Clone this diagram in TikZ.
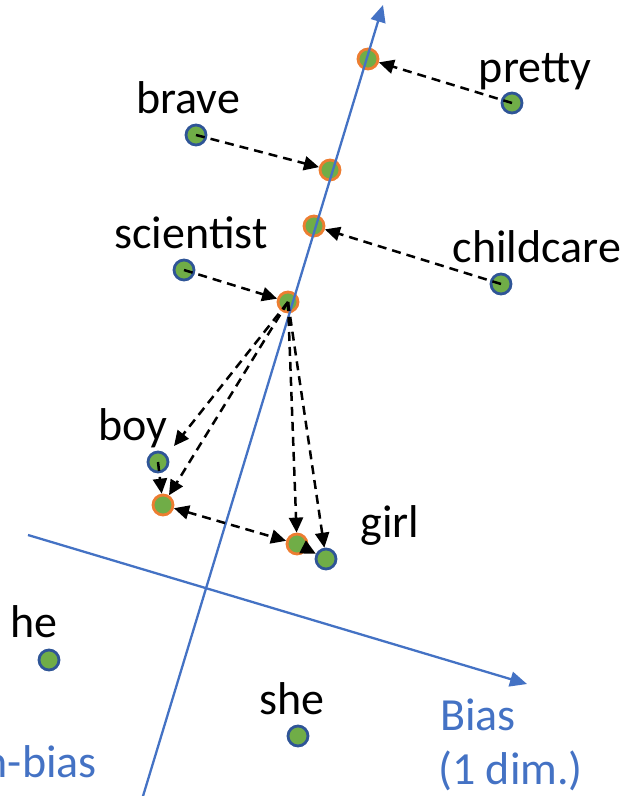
\documentclass[tikz,border=0pt]{standalone}
\usepackage{fontspec}
\setmainfont{Carlito}
\usetikzlibrary{arrows.meta}
\definecolor{dotgreen}{HTML}{70AD47}
\definecolor{dotblue}{HTML}{2F5597}
\definecolor{dotorange}{HTML}{ED7D31}
\definecolor{axisblue}{HTML}{4472C4}
\begin{document}
\begin{tikzpicture}[x=1pt,y=-1pt,
  word/.style={font=\fontsize{46}{55}\selectfont, anchor=base, inner sep=0pt},
  bluetext/.style={font=\fontsize{46}{55}\selectfont, text=axisblue, inner sep=0pt},
  wdot/.style={circle, draw=dotblue, fill=dotgreen, line width=2.8pt, minimum size=20pt, inner sep=0pt},
  pdot/.style={circle, draw=dotorange, fill=dotgreen, line width=2.8pt, minimum size=20pt, inner sep=0pt},
  dasharrow/.style={draw=black, line width=2.5pt, dash pattern=on 9pt off 6pt, -{Triangle[length=15pt,width=14pt]}},
  dashboth/.style={draw=black, line width=2.5pt, dash pattern=on 9pt off 6pt, {Triangle[length=15pt,width=14pt]}-{Triangle[length=15pt,width=14pt]}},
  axisline/.style={draw=axisblue, line width=2.3pt, -{Triangle[length=17pt,width=15pt]}}]
\useasboundingbox (0,0) rectangle (630,796);
\clip (0,0) rectangle (630,796);

% word dots
\node[wdot] (pretty) at (512,103) {};
\node[wdot] (brave) at (196,135) {};
\node[wdot] (childcare) at (501,284) {};
\node[wdot] (scientist) at (184,270) {};
\node[wdot] (boy) at (158,462) {};
\node[wdot] (girl) at (326,559) {};
\node[wdot] (he) at (49,660) {};
\node[wdot] (she) at (298,736) {};

% projected dots
\node[pdot] (pp) at (368,59) {};
\node[pdot] (bp) at (330,170) {};
\node[pdot] (cp) at (314,226) {};
\node[pdot] (sp) at (288,302) {};
\node[pdot] (byp) at (163,505) {};
\node[pdot] (gp) at (297,544) {};

% axes
\coordinate (ax1s) at (140,806);
\coordinate (ax1e) at (383,5);
\coordinate (ax2s) at (28,535);
\coordinate (ax2e) at (527,684);
\draw[axisline] (ax1s) -- (ax1e);
\draw[axisline] (ax2s) -- (ax2e);

% labels
\node[word] (lpretty) at (535,82) {pretty};
\node[word] (lbrave) at (188,113) {brave};
\node[word] (lscientist) at (191,248) {scientist};
\node[word] (lchildcare) at (537,262) {childcare};
\node[word] (lboy) at (133,440) {boy};
\node[word] (lgirl) at (390,537) {girl};
\node[word] (lhe) at (34,637) {he};
\node[word] (lshe) at (292,714) {she};
\node[bluetext, anchor=base west] (lbias) at (440,730) {Bias};
\node[bluetext, anchor=base west] (ldim) at (438,784) {(1 dim.)};
\node[bluetext, anchor=base east] (lnonbias) at (97,777) {Non-bias};

% dashed arrows
\coordinate (boyend) at (174,446);
\draw[dasharrow] (pretty.center) -- (pp);
\draw[dasharrow] (brave.center) -- (bp);
\draw[dasharrow] (childcare.center) -- (cp);
\draw[dasharrow] (scientist.center) -- (sp);
\draw[dasharrow] (sp.center) -- (boyend);
\draw[dasharrow] (sp.center) -- (byp);
\draw[dasharrow] (sp.center) -- (gp);
\draw[dasharrow] (sp.center) -- (girl);
\draw[dasharrow] (boy.center) -- (byp);
\draw[dashboth] (byp) -- (gp);
\draw[dasharrow] (gp) -- (girl);
\end{tikzpicture}
\end{document}
